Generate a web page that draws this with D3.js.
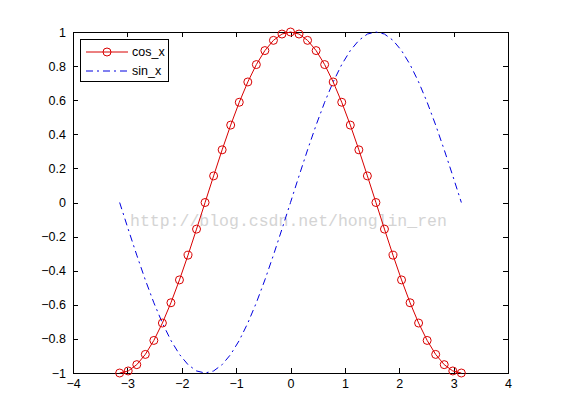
<!DOCTYPE html>
<html>
<head>
<meta charset="utf-8">
<script src="https://cdn.jsdelivr.net/npm/d3@7"></script>
<style>
body { margin: 0; background: #fff; }
svg text { font-family: "Liberation Sans", Arial, sans-serif; }
</style>
</head>
<body>
<svg></svg>
<script>
// chart values
const xValues = [-3.142, -2.985, -2.827, -2.670, -2.513, -2.356, -2.199, -2.042, -1.885, -1.728,
  -1.571, -1.414, -1.257, -1.100, -0.942, -0.785, -0.628, -0.471, -0.314, -0.157,
  0, 0.157, 0.314, 0.471, 0.628, 0.785, 0.942, 1.100, 1.257, 1.414,
  1.571, 1.728, 1.885, 2.042, 2.199, 2.356, 2.513, 2.670, 2.827, 2.985, 3.142];
const cosValues = [-1, -0.988, -0.951, -0.891, -0.809, -0.707, -0.588, -0.454, -0.309, -0.156,
  0, 0.156, 0.309, 0.454, 0.588, 0.707, 0.809, 0.891, 0.951, 0.988,
  1, 0.988, 0.951, 0.891, 0.809, 0.707, 0.588, 0.454, 0.309, 0.156,
  0, -0.156, -0.309, -0.454, -0.588, -0.707, -0.809, -0.891, -0.951, -0.988, -1];
const sinValues = [0, -0.156, -0.309, -0.454, -0.588, -0.707, -0.809, -0.891, -0.951, -0.988,
  -1, -0.988, -0.951, -0.891, -0.809, -0.707, -0.588, -0.454, -0.309, -0.156,
  0, 0.156, 0.309, 0.454, 0.588, 0.707, 0.809, 0.891, 0.951, 0.988,
  1, 0.988, 0.951, 0.891, 0.809, 0.707, 0.588, 0.454, 0.309, 0.156, 0];
const xTicks = [-4, -3, -2, -1, 0, 1, 2, 3, 4];
const yTicks = [-1, -0.8, -0.6, -0.4, -0.2, 0, 0.2, 0.4, 0.6, 0.8, 1];
const seriesNames = ["cos_x", "sin_x"];
const watermark = "http://blog.csdn.net/honglin_ren";

const width = 561, height = 420;
const plotLeft = 73, plotRight = 508, plotTop = 32, plotBottom = 373;

const svg = d3.select("svg").attr("width", width).attr("height", height);

const x = d3.scaleLinear().domain([-4, 4]).range([plotLeft, plotRight]);
const y = d3.scaleLinear().domain([-1, 1]).range([plotBottom, plotTop]);

// axes with inward ticks
function styleAxis(g) {
  g.select(".domain").remove();
  g.selectAll("line").attr("stroke", "#000").attr("shape-rendering", "crispEdges");
  g.selectAll("text").attr("fill", "#000").style("font-size", "12.5px");
}
svg.append("g").attr("transform", `translate(0,${plotBottom})`)
  .call(d3.axisBottom(x).tickValues(xTicks).tickFormat(d3.format("d")).tickSizeInner(-5).tickSizeOuter(0).tickPadding(6))
  .call(styleAxis);
svg.append("g").attr("transform", `translate(0,${plotTop})`)
  .call(d3.axisTop(x).tickValues(xTicks).tickFormat("").tickSizeInner(-5).tickSizeOuter(0))
  .call(styleAxis);
svg.append("g").attr("transform", `translate(${plotLeft},0)`)
  .call(d3.axisLeft(y).tickValues(yTicks).tickFormat(d => d3.format("")(+d.toFixed(1))).tickSizeInner(-5).tickSizeOuter(0).tickPadding(7))
  .call(styleAxis);
svg.append("g").attr("transform", `translate(${plotRight},0)`)
  .call(d3.axisRight(y).tickValues(yTicks).tickFormat("").tickSizeInner(-5).tickSizeOuter(0))
  .call(styleAxis);

svg.append("rect")
  .attr("x", plotLeft + 0.5).attr("y", plotTop + 0.5)
  .attr("width", plotRight - plotLeft).attr("height", plotBottom - plotTop)
  .attr("fill", "none").attr("stroke", "#000");

// watermark
svg.append("text")
  .attr("x", 130).attr("y", 226)
  .style("font-family", "'Liberation Mono', 'DejaVu Sans Mono', monospace")
  .style("font-size", "16.5px")
  .attr("fill", "#d4d4d4")
  .text(watermark);

const line = d3.line().x(d => x(d[0])).y(d => y(d[1]));

// sin_x dash-dot
svg.append("path")
  .datum(xValues.map((v, i) => [v, sinValues[i]]))
  .attr("d", line)
  .attr("fill", "none").attr("stroke", "#0000e0").attr("stroke-width", 1)
  .attr("stroke-dasharray", "7,4,2,4");

// cos_x with circles
const cosData = xValues.map((v, i) => [v, cosValues[i]]);
svg.append("path")
  .datum(cosData)
  .attr("d", line)
  .attr("fill", "none").attr("stroke", "#d80000").attr("stroke-width", 1);
svg.append("g").selectAll("circle")
  .data(cosData)
  .enter()
  .append("circle")
  .attr("cx", d => x(d[0]))
  .attr("cy", d => y(d[1]))
  .attr("r", 4)
  .attr("fill", "none").attr("stroke", "#d80000");

// legend
const legend = svg.append("g");
legend.append("rect")
  .attr("x", 80.5).attr("y", 39.5).attr("width", 88).attr("height", 42)
  .attr("fill", "#fff").attr("stroke", "#000");
legend.append("line").attr("x1", 86).attr("x2", 128).attr("y1", 52).attr("y2", 52)
  .attr("stroke", "#d80000");
legend.append("circle").attr("cx", 107).attr("cy", 52).attr("r", 4)
  .attr("fill", "none").attr("stroke", "#d80000");
legend.append("line").attr("x1", 86).attr("x2", 128).attr("y1", 71).attr("y2", 71)
  .attr("stroke", "#0000e0").attr("stroke-dasharray", "7,4,2,4");
legend.selectAll("text")
  .data(seriesNames)
  .enter()
  .append("text")
  .attr("x", 132)
  .attr("y", (d, i) => 52 + i * 19)
  .attr("dy", "0.35em")
  .style("font-size", "12.5px")
  .text(d => d);
</script>
</body>
</html>
